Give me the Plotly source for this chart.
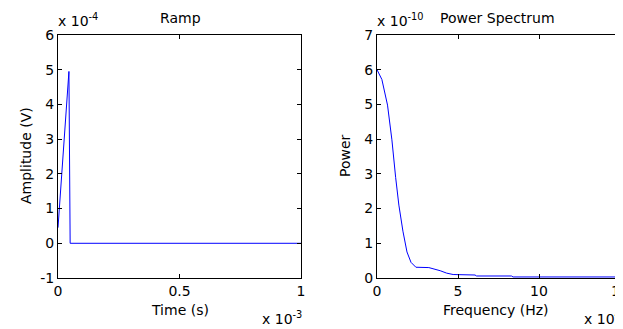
import plotly.graph_objects as go

# Ramp (time in units of 1e-3 s, amplitude in units of 1e-4 V)
ramp_time = [0, 0.005, 0.010, 0.015, 0.020, 0.025, 0.030, 0.035, 0.040, 0.045, 0.050, 1.0]
ramp_amp = [0.45, 0.95, 1.45, 1.95, 2.45, 2.95, 3.45, 3.95, 4.45, 4.95, 0, 0]

# Power spectrum (frequency in units of 1e4 Hz, power in units of 1e-10)
freq = [0, 0.3, 0.65, 0.92, 1.15, 1.35, 1.6, 1.85, 2.1, 2.4, 3.2, 3.6, 3.9, 4.3, 4.7, 6.05, 6.15, 8.3, 8.4, 15.5]
power = [6.0, 5.72, 4.98, 3.98, 2.9, 2.1, 1.35, 0.75, 0.45, 0.31, 0.30, 0.26, 0.21, 0.14, 0.10, 0.086, 0.058, 0.058, 0.03, 0.03]

left_xticks = [0, 0.5, 1]
left_xlabels = ["0", "0.5", "1"]
left_yticks = [-1, 0, 1, 2, 3, 4, 5, 6]
left_ylabels = ["-1", "0", "1", "2", "3", "4", "5", "6"]
right_xticks = [0, 5, 10, 15]
right_xlabels = ["0", "5", "10", "15"]
right_yticks = [0, 1, 2, 3, 4, 5, 6, 7]
right_ylabels = ["0", "1", "2", "3", "4", "5", "6", "7"]

FONT = "DejaVu Sans"
W, H = 623, 329
OFF = 8  # page body margin

def px(x):
    return (x - OFF) / W

def py(y):
    return 1 - (y - OFF) / H

fig = go.Figure()
fig.add_trace(go.Scatter(x=ramp_time, y=ramp_amp, mode="lines",
                         line=dict(color="#0000ff", width=1), xaxis="x", yaxis="y"))
fig.add_trace(go.Scatter(x=freq, y=power, mode="lines",
                         line=dict(color="#0000ff", width=1), xaxis="x2", yaxis="y2"))

ydom = [py(278), py(35)]
axcommon = dict(showgrid=False, zeroline=False, showline=True, linecolor="black",
                linewidth=1, mirror="allticks", ticks="inside", ticklen=4,
                tickcolor="black", automargin=False,
                tickfont=dict(family=FONT, size=14, color="black"))

fig.update_layout(
    template="none",
    width=W, height=H,
    margin=dict(l=0, r=0, t=0, b=0, pad=0),
    paper_bgcolor="white", plot_bgcolor="white",
    showlegend=False,
    font=dict(family=FONT, size=14, color="black"),
    xaxis=dict(domain=[px(58), px(301)], range=[0, 1], tickvals=left_xticks,
               ticktext=left_xlabels, anchor="y", **axcommon),
    yaxis=dict(domain=ydom, range=[-1, 6], tickvals=left_yticks, ticktext=left_ylabels,
               anchor="x", **axcommon),
    xaxis2=dict(domain=[px(377), px(620)], range=[0, 15], tickvals=right_xticks,
                ticktext=right_xlabels, anchor="y2", **axcommon),
    yaxis2=dict(domain=ydom, range=[0, 7], tickvals=right_yticks, ticktext=right_ylabels,
                anchor="x2", **axcommon),
)

def ann(text, x, y, xanchor="center", yanchor="middle", angle=0, size=14):
    fig.add_annotation(text=text, x=px(x), y=py(y), xref="paper", yref="paper",
                       xanchor=xanchor, yanchor=yanchor, textangle=angle, showarrow=False,
                       font=dict(family=FONT, size=size, color="black"))

ann("Ramp", 180, 18)
ann("Power Spectrum", 497, 18)
ann("Amplitude (V)", 26, 156, angle=-90)
ann("Power", 345, 156, angle=-90)
ann("Time (s)", 180, 310)
ann("Frequency (Hz)", 496, 310)
ann("x 10<sup>-4</sup>", 56, 20, xanchor="left")
ann("x 10<sup>-10</sup>", 375, 20, xanchor="left")
ann("x 10<sup>-3</sup>", 260, 318, xanchor="left")
ann("x 10<sup>4</sup>", 582, 318, xanchor="left")

fig.write_html("out.html")
